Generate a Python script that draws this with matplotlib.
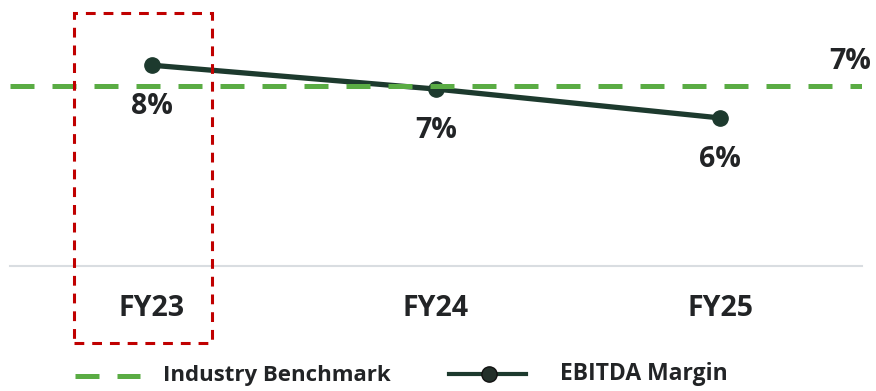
import matplotlib.pyplot as plt
from matplotlib.lines import Line2D
from matplotlib.patches import Rectangle

# EBITDA margin by fiscal year vs. industry benchmark (%)
years = ['FY23', 'FY24', 'FY25']
ebitda_margin = [8.0, 7.05, 5.9]
benchmark = 7.17

line_color = '#1d3a2e'
bench_color = '#5aac44'
text_color = '#222426'
plt.rcParams['font.family'] = ['Open Sans', 'DejaVu Sans']

fig = plt.figure(figsize=(8.76, 3.91), dpi=100)
W, H = 876, 391
ax = fig.add_axes([10 / W, (H - 266) / H, 852 / W, 256 / H])

x = list(range(len(years)))
ax.plot(x, ebitda_margin, color=line_color, lw=3.8, marker='o', ms=11,
        zorder=3, solid_capstyle='round')
ax.axhline(benchmark, color=bench_color, lw=3.6, ls=(0, (4.8, 3.6)), zorder=4)

for xi, v in zip(x, ebitda_margin):
    ax.annotate(f'{v:.0f}%', (xi, v), xytext=(0, -30), textcoords='offset points',
                ha='center', va='center', fontsize=20.5, fontweight='bold',
                color=text_color)
ax.annotate(f'{benchmark:.0f}%', (1, benchmark), xycoords=('axes fraction', 'data'),
            xytext=(6.5, 18), textcoords='offset points', ha='right', va='center',
            fontsize=20.5, fontweight='bold', color=text_color)

ax.set_xlim(-0.5, 2.5)
ax.set_ylim(0, 10.2)
ax.set_xticks(x, years)
ax.tick_params(axis='x', length=0, pad=20, labelsize=20.5, labelcolor=text_color)
for lbl in ax.get_xticklabels():
    lbl.set_fontweight('bold')
ax.set_yticks([])
for side in ['top', 'left', 'right']:
    ax.spines[side].set_visible(False)
ax.spines['bottom'].set_color('#d9dde1')
ax.spines['bottom'].set_linewidth(1.5)

# highlight box around the first year
fig.add_artist(Rectangle((74 / W, (H - 343) / H), 138 / W, 330 / H,
                         transform=fig.transFigure, fill=False, ec='#c00000',
                         lw=2.2, ls=(0, (3.2, 2.6))))

# legend drawn by hand along the bottom
ly = (H - 376) / H
fig.add_artist(Line2D([75 / W, 140 / W], [ly, ly], transform=fig.transFigure,
                      color=bench_color, lw=3.6, ls=(0, (4.8, 3.6))))
fig.text(163 / W, ly, 'Industry Benchmark', ha='left', va='center', fontsize=16,
         fontweight='bold', color=text_color)
ly2 = (H - 374) / H
fig.add_artist(Line2D([449 / W, 526 / W], [ly2, ly2], transform=fig.transFigure,
                      color=line_color, lw=3))
fig.add_artist(Line2D([489 / W], [ly2], transform=fig.transFigure, color=line_color,
                      marker='o', ms=11, mfc='#23302a', mec='#111'))
fig.text(560 / W, ly2, 'EBITDA Margin', ha='left', va='center', fontsize=16.5,
         fontweight='bold', color=text_color)

fig.savefig('out.png', dpi=100)
